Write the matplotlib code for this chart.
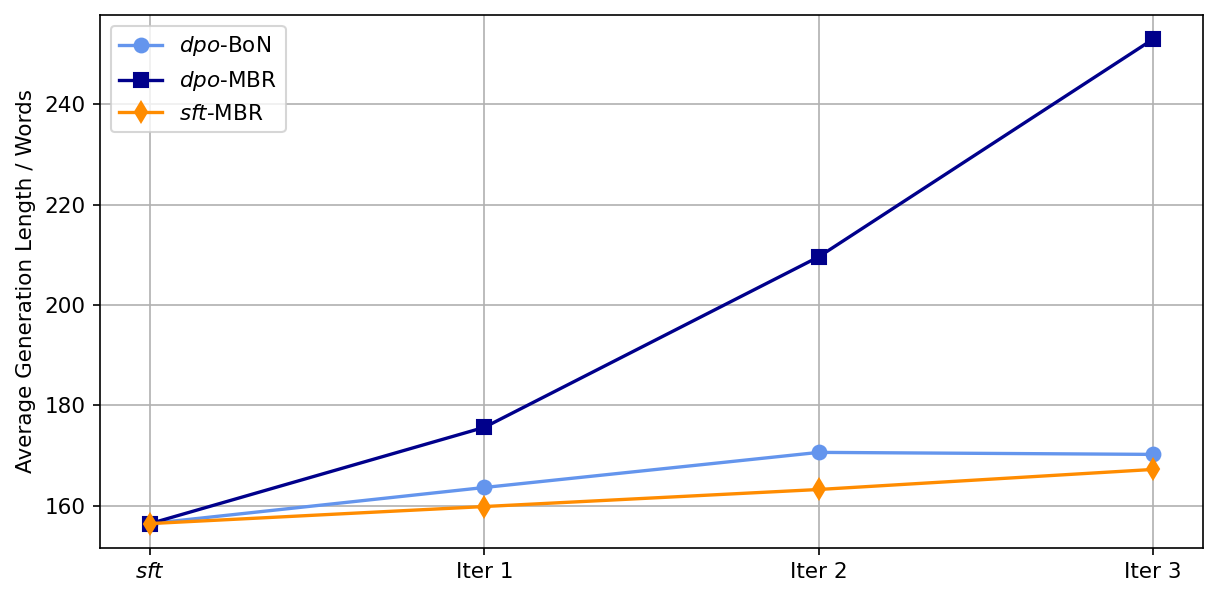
import matplotlib
matplotlib.use("Agg")
from matplotlib import pyplot as plt

labels = [r"$\it{sft}$", "Iter 1", "Iter 2", "Iter 3"]
dpo_bon = [156.4, 163.6, 170.6, 170.2]
dpo_mbr = [156.4, 175.6, 209.6, 253.0]
sft_mbr = [156.4, 159.8, 163.2, 167.2]

x = range(len(labels))

plt.rcParams["font.size"] = 10.3
plt.rcParams["lines.linewidth"] = 1.6
plt.rcParams["lines.markersize"] = 6.6

fig = plt.figure(figsize=(1219 / 150, 600 / 150), dpi=150)
ax = fig.add_subplot(111)

ax.plot(x, dpo_bon, marker="o", color="cornflowerblue", label=r"$\it{dpo}$-BoN")
ax.plot(x, dpo_mbr, marker="s", color="darkblue", label=r"$\it{dpo}$-MBR")
ax.plot(x, sft_mbr, marker="d", color="darkorange", label=r"$\it{sft}$-MBR")

ax.set_xticks(list(x))
ax.set_xticklabels(labels)
ax.set_ylabel("Average Generation Length / Words")
ax.grid(True)
ax.legend(loc="upper left")

fig.subplots_adjust(left=0.082, right=0.987, top=0.975, bottom=0.087)
fig.savefig("out.png", dpi=150)
plt.close()
